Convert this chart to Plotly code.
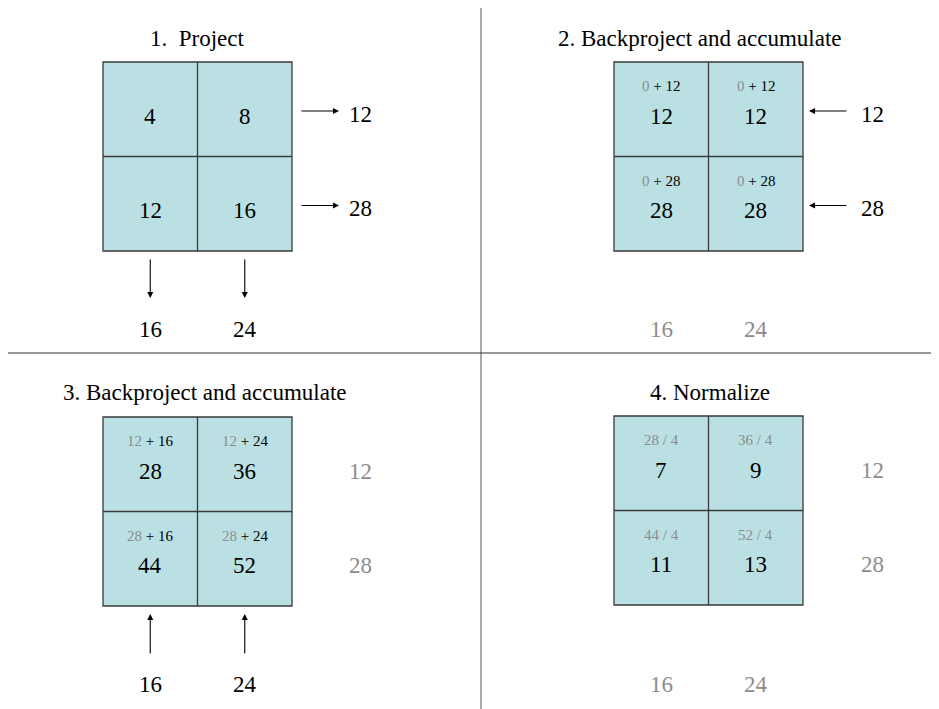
import plotly.graph_objects as go

# ---- data ----
image = [[4, 8], [12, 16]]
row_sums = [12, 28]
col_sums = [16, 24]
step2 = [[12, 12], [28, 28]]
step3 = [[28, 36], [44, 52]]
divisor = 4
step4 = [[7, 9], [11, 13]]
titles = ["1.  Project", "2. Backproject and accumulate",
          "3. Backproject and accumulate", "4. Normalize"]

W, H = 939, 709
OFF = 8  # default page body margin
CELL = 94.5
FILL = "#bae0e3"
EDGE = "#3a3a3a"
GRAY = "#8c8c8c"
FONT = "Liberation Serif"
BIG, SMALL, TITLE = 23, 15, 23

fig = go.Figure()
shapes = []
ann = []


def text(x, y, s, size=BIG, color="black"):
    ann.append(dict(x=x, y=y, xref="x", yref="y", text=s, showarrow=False,
                    font=dict(family=FONT, size=size, color=color),
                    xanchor="center", yanchor="middle"))


def arrow(x0, y0, x1, y1):
    ann.append(dict(x=x1, y=y1, ax=x0, ay=y0, xref="x", yref="y", axref="x", ayref="y",
                    text="", showarrow=True, arrowhead=2, arrowsize=1.1, arrowwidth=1.1,
                    arrowcolor="black", standoff=0, startstandoff=0))


def grid(x0, y0):
    shapes.append(dict(type="rect", x0=x0, y0=y0, x1=x0 + 2 * CELL, y1=y0 + 2 * CELL,
                       xref="x", yref="y", fillcolor=FILL, line=dict(color=EDGE, width=1.3),
                       layer="below"))
    shapes.append(dict(type="line", x0=x0 + CELL, x1=x0 + CELL, y0=y0, y1=y0 + 2 * CELL,
                       xref="x", yref="y", line=dict(color=EDGE, width=1.3)))
    shapes.append(dict(type="line", x0=x0, x1=x0 + 2 * CELL, y0=y0 + CELL, y1=y0 + CELL,
                       xref="x", yref="y", line=dict(color=EDGE, width=1.3)))


def g(s):
    return f"<span style='color:{GRAY}'>{s}</span>"


# dividers
shapes.append(dict(type="line", x0=481, x1=481, y0=8, y1=H, xref="x", yref="y",
                   line=dict(color="#555555", width=1)))
shapes.append(dict(type="line", x0=5, x1=W, y0=353, y1=353, xref="x", yref="y",
                   line=dict(color="#333333", width=1.2)))

# Panel 1
px, py = 103, 62
grid(px, py)
text(197, 38, titles[0], size=TITLE)
for r in range(2):
    for c in range(2):
        text(px + CELL * (c + 0.5), py + CELL * r + 54, str(image[r][c]))
    yy = py + CELL * r + 49
    arrow(300, yy, 339, yy)
    text(360, yy + 3, str(row_sums[r]))
for c in range(2):
    xx = px + CELL * (c + 0.5)
    arrow(xx, 258, xx, 298)
    text(xx, 329, str(col_sums[c]))

# Panel 2
px, py = 614, 62
grid(px, py)
text(700, 38, titles[1], size=TITLE)
for r in range(2):
    for c in range(2):
        cx = px + CELL * (c + 0.5)
        text(cx, py + CELL * r + 24, g(0) + " + " + str(row_sums[r]), size=SMALL)
        text(cx, py + CELL * r + 54, str(step2[r][c]))
    yy = py + CELL * r + 49
    arrow(848, yy, 809, yy)
    text(872, yy + 3, str(row_sums[r]))
for c in range(2):
    text(px + CELL * (c + 0.5), 329, str(col_sums[c]), color=GRAY)

# Panel 3
px, py = 103, 417
grid(px, py)
text(205, 392, titles[2], size=TITLE)
for r in range(2):
    for c in range(2):
        cx = px + CELL * (c + 0.5)
        text(cx, py + CELL * r + 24, g(step2[r][c]) + " + " + str(col_sums[c]), size=SMALL)
        text(cx, py + CELL * r + 54, str(step3[r][c]))
    text(360, py + CELL * r + 54, str(row_sums[r]), color=GRAY)
for c in range(2):
    xx = px + CELL * (c + 0.5)
    arrow(xx, 655, xx, 614)
    text(xx, 684, str(col_sums[c]))

# Panel 4
px, py = 614, 416
grid(px, py)
text(710, 392, titles[3], size=TITLE)
for r in range(2):
    for c in range(2):
        cx = px + CELL * (c + 0.5)
        text(cx, py + CELL * r + 24, g(f"{step3[r][c]} / {divisor}"), size=SMALL)
        text(cx, py + CELL * r + 54, str(step4[r][c]))
    text(872, py + CELL * r + 54, str(row_sums[r]), color=GRAY)
for c in range(2):
    text(px + CELL * (c + 0.5), 684, str(col_sums[c]), color=GRAY)

fig.update_layout(
    width=W - OFF, height=H - OFF, margin=dict(l=0, r=0, t=0, b=0),
    paper_bgcolor="white", plot_bgcolor="white",
    font=dict(family=FONT),
    xaxis=dict(range=[OFF, W], visible=False, fixedrange=True),
    yaxis=dict(range=[H, OFF], visible=False, fixedrange=True),
    shapes=shapes, annotations=ann, showlegend=False,
)
fig.write_html("out.html")
